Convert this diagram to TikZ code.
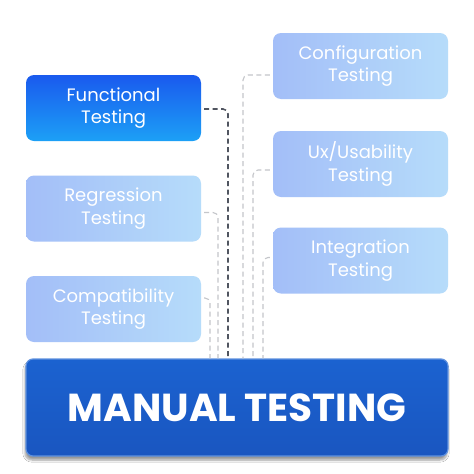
\documentclass[tikz,border=0pt]{standalone}
\usepackage{fontspec}
\setmainfont{Poppins}
\usetikzlibrary{shadows.blur,calc}
\definecolor{fnA}{HTML}{1A5AEE}
\definecolor{fnB}{HTML}{1CA0F6}
\definecolor{ltA}{HTML}{A3BEF8}
\definecolor{ltB}{HTML}{B6DCFA}
\definecolor{mnA}{HTML}{1B62D0}
\definecolor{mnB}{HTML}{1A56C0}
\definecolor{darkline}{HTML}{505560}
\definecolor{lightline}{HTML}{C4C6CA}
\tikzset{
  tbox/.style={rounded corners=8pt, minimum width=175pt, minimum height=66pt,
    text=white, align=center, font=\fontsize{18}{22.5}\selectfont, inner sep=0pt},
  activebox/.style={tbox, left color=fnA, right color=fnB, shading angle=0},
  lightbox/.style={tbox, left color=ltA, right color=ltB},
  mainbox/.style={rounded corners=7pt, minimum width=422pt, minimum height=97pt,
    top color=mnA, bottom color=mnB, draw=mnA!70!white, line width=1.2pt,
    blur shadow={shadow xshift=-1pt, shadow yshift=-4pt, shadow blur steps=6},
    inner sep=0pt},
  darkcon/.style={draw=darkline, line width=1.6pt, dash pattern=on 5pt off 3.5pt, rounded corners=5pt},
  lightcon/.style={draw=lightline, line width=1.1pt, dash pattern=on 5pt off 3.5pt, rounded corners=5pt},
}
\begin{document}
\begin{tikzpicture}[x=1pt,y=-1pt]
\useasboundingbox (0,0) rectangle (474,474);
\fill[white] (0,0) rectangle (474,474);
\node[activebox] (fun) at (113.5,108) {\raisebox{-2pt}{\parbox{170pt}{\centering Functional\\Testing}}};
\node[lightbox] (reg) at (113.5,208.5) {\raisebox{-2pt}{\parbox{170pt}{\centering Regression\\Testing}}};
\node[lightbox] (com) at (113.5,309) {\raisebox{-2pt}{\parbox{170pt}{\centering Compatibility\\Testing}}};
\node[lightbox] (cfg) at (360.5,66) {\raisebox{-2pt}{\parbox{170pt}{\centering Configuration\\Testing}}};
\node[lightbox] (ux) at (360.5,164) {\raisebox{-2pt}{\parbox{170pt}{\centering Ux/Usability\\Testing}}};
\node[lightbox] (int) at (360.5,260.5) {\raisebox{-2pt}{\parbox{170pt}{\centering Integration\\Testing}}};
\node[mainbox, text=white, font=\fontsize{39}{44}\bfseries\selectfont] (man) at (237,407.5) {\raisebox{-1pt}{MANUAL TESTING}};
\coordinate (c1) at (228,0);
\coordinate (c2) at (218,0);
\coordinate (c3) at (210,0);
\coordinate (c4) at (243,0);
\coordinate (c5) at (253,0);
\coordinate (c6) at (263,0);
\draw[darkcon] ($(fun.east)+(3,1)$) -| (c1 |- man.north);
\draw[lightcon] ($(reg.east)+(3,4)$) -| (c2 |- man.north);
\draw[lightcon] ($(com.east)+(3,-11)$) -| (c3 |- man.north);
\draw[lightcon] ($(cfg.west)+(-3,9)$) -| (c4 |- man.north);
\draw[lightcon] ($(ux.west)+(-3,6)$) -| (c5 |- man.north);
\draw[lightcon] ($(int.west)+(-3,-3)$) -| (c6 |- man.north);
\end{tikzpicture}
\end{document}
